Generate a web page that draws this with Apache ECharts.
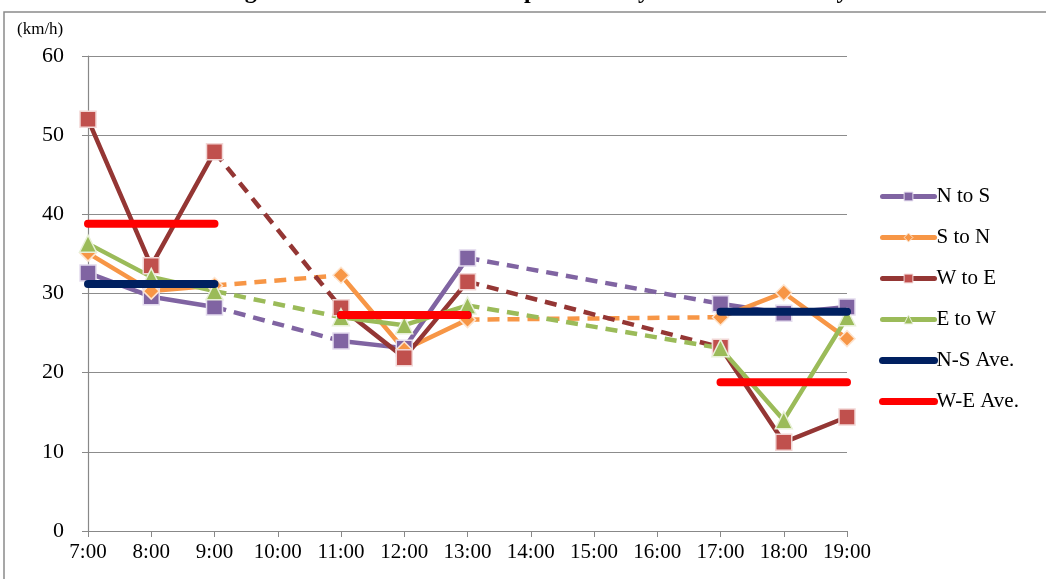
<!DOCTYPE html>
<html>
<head>
<meta charset="utf-8">
<script src="https://cdn.jsdelivr.net/npm/echarts@6/dist/echarts.min.js"></script>
<style>
  html, body { margin: 0; padding: 0; background: #fff; }
  #chart { width: 1046px; height: 579px; }
</style>
</head>
<body>
<div id="chart"></div>
<script>
// Hourly survey slots (no survey at 10:00 and 14:00-16:00)
const hours = ['7:00', '8:00', '9:00', '10:00', '11:00', '12:00', '13:00',
               '14:00', '15:00', '16:00', '17:00', '18:00', '19:00'];
const yTicks = [0, 10, 20, 30, 40, 50, 60];

// Average travel speed (km/h) by direction
const nToS = [32.6, 29.6, 28.3, null, 24.0, 23.1, 34.5, null, null, null, 28.7, 27.5, 28.3];
const sToN = [35.1, 30.3, 31.0, null, 32.3, 22.9, 26.7, null, null, null, 27.0, 30.1, 24.3];
const wToE = [52.0, 33.5, 47.9, null, 28.2, 21.9, 31.5, null, null, null, 23.2, 11.2, 14.4];
const eToW = [36.3, 32.1, 30.3, null, 27.0, 26.0, 28.5, null, null, null, 23.1, 14.0, 27.0];

// Period averages (morning, midday, evening)
const nsAve = [31.2, 31.2, 31.2, null, 27.3, 27.3, 27.3, null, null, null, 27.7, 27.7, 27.7];
const weAve = [38.8, 38.8, 38.8, null, 27.3, 27.3, 27.3, null, null, null, 18.8, 18.8, 18.8];

const serif = '"Liberation Serif", "DejaVu Serif", serif';

const directions = [
  { name: 'N to S', data: nToS, line: '#8064A2', fill: '#8064A2', border: '#E4DCEE', symbol: 'rect', size: 16 },
  { name: 'S to N', data: sToN, line: '#F79646', fill: '#F79646', border: '#FDE4CF', symbol: 'diamond', size: 16 },
  { name: 'W to E', data: wToE, line: '#943634', fill: '#C0504D', border: '#F2D6D5', symbol: 'rect', size: 16 },
  { name: 'E to W', data: eToW, line: '#9BBB59', fill: '#9BBB59', border: '#E8F0D8', symbol: 'triangle', size: 17 }
];

const series = [];

// Dashed links across hours without a survey
directions.forEach(d => {
  let prev = -1;
  d.data.forEach((v, i) => {
    if (v == null) return;
    if (prev >= 0 && i - prev > 1) {
      const seg = d.data.map((_, k) => (k === prev || k === i) ? d.data[k] : null);
      series.push({
        type: 'line', name: d.name + ' (gap)', data: seg, connectNulls: true,
        showSymbol: false, silent: true, z: 1,
        lineStyle: { color: d.line, width: 4.5, type: [12, 8] }
      });
    }
    prev = i;
  });
});

// Solid lines between consecutive surveyed hours
directions.forEach(d => {
  series.push({
    type: 'line', name: d.name, data: d.data, connectNulls: false,
    symbol: d.symbol, symbolSize: d.size, z: 2,
    itemStyle: { color: d.fill, borderColor: d.border, borderWidth: 1.5 },
    lineStyle: { color: d.line, width: 4.5 }
  });
});

series.push({
  type: 'line', name: 'N-S Ave.', data: nsAve, connectNulls: false,
  showSymbol: false, symbol: 'none', z: 3,
  itemStyle: { color: '#002060' },
  lineStyle: { color: '#002060', width: 8, cap: 'round' }
});
series.push({
  type: 'line', name: 'W-E Ave.', data: weAve, connectNulls: false,
  showSymbol: false, symbol: 'none', z: 4,
  itemStyle: { color: '#FF0000' },
  lineStyle: { color: '#FF0000', width: 8, cap: 'round' }
});

// Legend entries: thick key lines, small markers, plain bars for the averages
const legendData = directions.map(d => ({
  name: d.name,
  lineStyle: { width: 5, cap: 'round' },
  itemStyle: { borderWidth: 1 }
})).concat([
  { name: 'N-S Ave.', lineStyle: { width: 7, cap: 'round' }, itemStyle: { opacity: 0 } },
  { name: 'W-E Ave.', lineStyle: { width: 7, cap: 'round' }, itemStyle: { opacity: 0 } }
]);

const chart = echarts.init(document.getElementById('chart'), null, { renderer: 'canvas' });
chart.setOption({
  animation: false,
  backgroundColor: '#fff',
  grid: { left: 88, right: 199, top: 56, bottom: 48, containLabel: false },
  legend: {
    orient: 'vertical', left: 874, top: 181, itemGap: 20,
    itemWidth: 52, itemHeight: 11,
    data: legendData,
    textStyle: { fontFamily: serif, fontSize: 21, color: '#000', padding: [0, 0, 0, -3] }
  },
  xAxis: {
    type: 'category', data: hours, boundaryGap: false,
    axisLine: { lineStyle: { color: '#888', width: 1.2 } },
    axisTick: { show: true, length: 6, lineStyle: { color: '#888' } },
    axisLabel: { fontFamily: serif, fontSize: 21, color: '#000', margin: 11 },
    splitLine: { show: false }
  },
  yAxis: {
    type: 'value', min: yTicks[0], max: yTicks[yTicks.length - 1], interval: 10,
    axisLine: { show: true, lineStyle: { color: '#888', width: 1.2 } },
    axisTick: { show: true, length: 6, lineStyle: { color: '#888' } },
    axisLabel: { fontFamily: serif, fontSize: 22, color: '#000', margin: 24 },
    splitLine: { lineStyle: { color: '#8c8c8c', width: 1.2 } }
  },
  graphic: [
    { type: 'rect', shape: { x: 4, y: 12, width: 1200, height: 700 }, silent: true,
      style: { fill: null, stroke: '#8a8a8a', lineWidth: 1.5 } },
    { type: 'text', x: 536, y: -20, silent: true,
      style: { text: 'Figure 2-8  Result of Travel Speed Survey in the Central City',
        font: 'bold 24px ' + serif, fill: '#000', align: 'center', verticalAlign: 'top' } },
    { type: 'text', x: 17, y: 21, silent: true,
      style: { text: '(km/h)', font: '17px ' + serif, fill: '#000' } }
  ],
  series: series
});
</script>
</body>
</html>
